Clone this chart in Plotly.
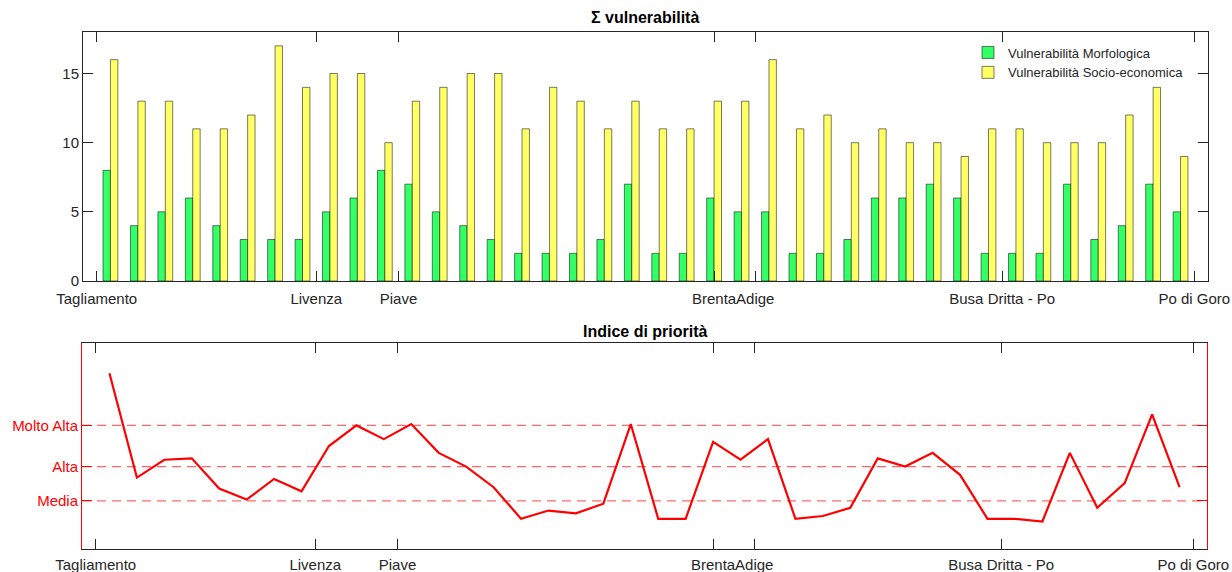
import plotly.graph_objects as go

W, H = 1232, 572

# ---- data ----
sites = list(range(1, 41))
vuln_morfologica = [8, 4, 5, 6, 4, 3, 3, 3, 5, 6,
                    8, 7, 5, 4, 3, 2, 2, 2, 3, 7,
                    2, 2, 6, 5, 5, 2, 2, 3, 6, 6,
                    7, 6, 2, 2, 2, 7, 3, 4, 7, 5]
vuln_socioeconomica = [16, 13, 13, 11, 11, 12, 17, 14, 15, 15,
                       10, 13, 14, 15, 15, 11, 14, 13, 11, 13,
                       11, 11, 13, 13, 16, 11, 12, 10, 11, 10,
                       10, 9, 11, 11, 10, 10, 10, 12, 14, 9]
indice_priorita = [128, 52, 65, 66, 44, 36, 51, 42, 75, 90,
                   80, 91, 70, 60, 45, 22, 28, 26, 33, 91,
                   22, 22, 78, 65, 80, 22, 24, 30, 66, 60,
                   70, 54, 22, 22, 20, 70, 30, 48, 98, 45]

river_ticks = [0.5, 8.5, 11.5, 23, 24.5, 33.5, 40.5]
river_labels = ["Tagliamento", "Livenza", "Piave", "Brenta", "Adige",
                "Busa Dritta - Po", "Po di Goro"]

class_values = [35, 60, 90]
class_labels = ["Media", "Alta", "Molto Alta"]

# ---- layout helpers (page pixel -> paper fraction) ----
def fx(px):
    return px / W

def fy(py):
    return 1 - py / H

FONT = "Liberation Sans, Arial, Helvetica, sans-serif"
TXT = "#262626"

fig = go.Figure()

fig.add_trace(go.Bar(
    x=sites, y=vuln_morfologica, name="Vulnerabilità Morfologica",
    marker=dict(color="#33FF66", line=dict(color="rgba(0,0,0,0.65)", width=0.8)),
    xaxis="x", yaxis="y"))
fig.add_trace(go.Bar(
    x=sites, y=vuln_socioeconomica, name="Vulnerabilità Socio-economica",
    marker=dict(color="#FFFF66", line=dict(color="rgba(0,0,0,0.65)", width=0.8)),
    xaxis="x", yaxis="y"))

fig.add_trace(go.Scatter(
    x=sites, y=indice_priorita, mode="lines", showlegend=False,
    line=dict(color="#FF0000", width=2.2),
    xaxis="x2", yaxis="y2"))

shapes = []
for v in class_values:
    shapes.append(dict(type="line", xref="x2", yref="y2", x0=0, x1=41, y0=v, y1=v,
                       line=dict(color="rgba(255,40,40,0.7)", width=1.3, dash="9px,6px"),
                       layer="below"))

common_x = dict(
    range=[0, 41], tickmode="array", tickvals=river_ticks, ticktext=river_labels,
    ticks="inside", ticklen=10, tickcolor=TXT, showline=True, mirror="ticks",
    linecolor=TXT, linewidth=1, showgrid=False, zeroline=False,
    tickangle=0, automargin=False,
    tickfont=dict(family=FONT, size=15, color=TXT),
)

fig.update_layout(
    width=W, height=H,
    margin=dict(l=0, r=0, t=0, b=0),
    paper_bgcolor="white", plot_bgcolor="white",
    barmode="group", bargap=0.46, bargroupgap=0.0,
    font=dict(family=FONT, size=15, color=TXT),
    xaxis=dict(domain=[fx(83), fx(1208)], anchor="y", ticklabelstandoff=4, **common_x),
    yaxis=dict(domain=[fy(281), fy(32)], anchor="x", range=[0, 18],
               tickvals=[0, 5, 10, 15], ticks="inside", ticklen=10, tickcolor=TXT,
               showline=True, mirror="ticks", linecolor=TXT, linewidth=1,
               showgrid=False, zeroline=False, automargin=False,
               tickfont=dict(family=FONT, size=15, color=TXT)),
    xaxis2=dict(domain=[fx(82), fx(1207)], anchor="y2", ticklabelstandoff=2, **common_x),
    yaxis2=dict(domain=[fy(549), fy(343)], anchor="x2", range=[0, 150],
                tickmode="array", tickvals=class_values, ticktext=class_labels,
                ticks="inside", ticklen=10, tickcolor="#FF0000",
                showline=True, mirror="ticks", linecolor="#FF0000", linewidth=1,
                showgrid=False, zeroline=False, automargin=False,
                tickfont=dict(family=FONT, size=15, color="#FF0000")),
    legend=dict(x=fx(968), y=fy(37.5), xanchor="left", yanchor="top",
                bgcolor="rgba(255,255,255,0)", borderwidth=0,
                font=dict(family=FONT, size=13, color=TXT),
                tracegroupgap=0),
    shapes=shapes,
    annotations=[
        dict(text="<b>Σ vulnerabilità</b>", x=fx(645), y=fy(18), xref="paper", yref="paper",
             showarrow=False, xanchor="center", yanchor="middle",
             font=dict(family=FONT, size=16, color="black")),
        dict(text="<b>Indice di priorità</b>", x=fx(645), y=fy(331), xref="paper", yref="paper",
             showarrow=False, xanchor="center", yanchor="middle",
             font=dict(family=FONT, size=16, color="black")),
    ],
)

fig.write_html("out.html", config={"displayModeBar": False},
               post_script="document.body.style.margin='0px';")
